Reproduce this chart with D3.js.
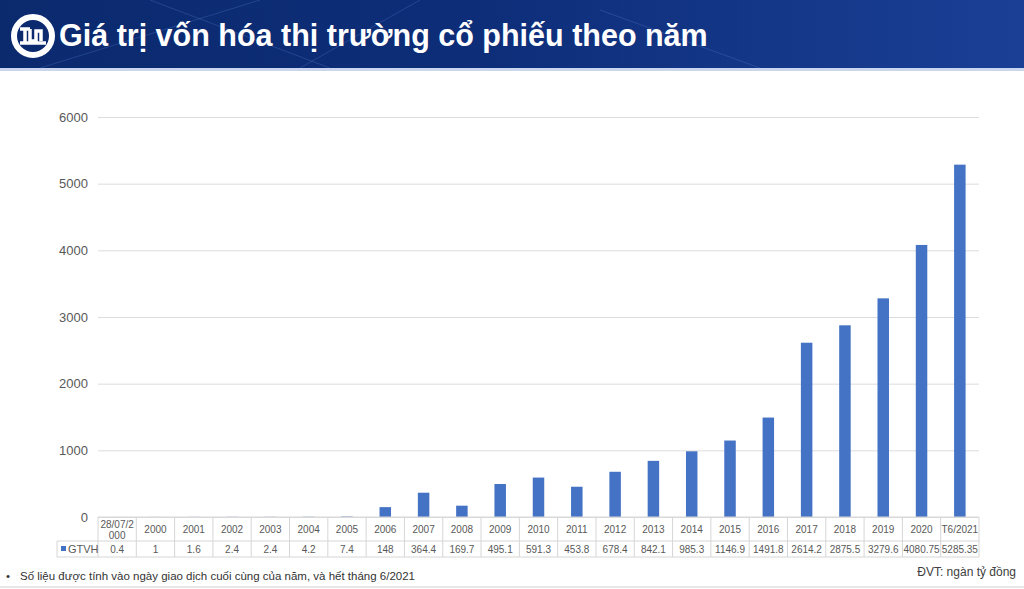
<!DOCTYPE html>
<html>
<head>
<meta charset="utf-8">
<script src="https://cdn.jsdelivr.net/npm/d3@7"></script>
<style>
  body { margin: 0; background: #fff; }
  svg { display: block; font-family: "Liberation Sans", Arial, sans-serif; }
</style>
</head>
<body>
<svg id="chart"></svg>
<script>
const width = 1024;
const height = 589;

// Data
const categories = ["28/07/2000", "2000", "2001", "2002", "2003", "2004", "2005", "2006", "2007", "2008", "2009",
  "2010", "2011", "2012", "2013", "2014", "2015", "2016", "2017", "2018", "2019", "2020", "T6/2021"];
const values = [0.4, 1, 1.6, 2.4, 2.4, 4.2, 7.4, 148, 364.4, 169.7, 495.1,
  591.3, 453.8, 678.4, 842.1, 985.3, 1146.9, 1491.8, 2614.2, 2875.5, 3279.6, 4080.75, 5285.35];
const valueLabels = ["0.4", "1", "1.6", "2.4", "2.4", "4.2", "7.4", "148", "364.4", "169.7", "495.1",
  "591.3", "453.8", "678.4", "842.1", "985.3", "1146.9", "1491.8", "2614.2", "2875.5", "3279.6", "4080.75", "5285.35"];
const yTicks = [0, 1000, 2000, 3000, 4000, 5000, 6000];
const seriesName = "GTVH";

const svg = d3.select("#chart")
  .attr("width", width)
  .attr("height", height);

// Header band
const defs = svg.append("defs");
const grad = defs.append("linearGradient").attr("id", "hdr").attr("x1", 0).attr("x2", 1).attr("y1", 0).attr("y2", 0);
grad.append("stop").attr("offset", "0%").attr("stop-color", "#0b2a6e");
grad.append("stop").attr("offset", "45%").attr("stop-color", "#0d2d78");
grad.append("stop").attr("offset", "100%").attr("stop-color", "#1a3f95");

svg.append("rect").attr("width", width).attr("height", 68).attr("fill", "url(#hdr)");
svg.append("rect").attr("y", 68).attr("width", width).attr("height", 3).attr("fill", "#c9d6ee");

// faint network lines in header
const netLines = [[40, 68, 260, 0], [300, 68, 420, 0], [600, 10, 760, 68], [150, 0, 330, 68]];
svg.append("g").selectAll("line").data(netLines).join("line")
  .attr("x1", d => d[0]).attr("y1", d => d[1]).attr("x2", d => d[2]).attr("y2", d => d[3])
  .attr("stroke", "#4f74c4").attr("stroke-opacity", 0.35).attr("stroke-width", 1);

// logo
const logo = svg.append("g").attr("transform", "translate(33,36)");
logo.append("circle").attr("r", 19).attr("fill", "none").attr("stroke", "#fff").attr("stroke-width", 6);
logo.append("path")
  .attr("d", "M-13,-7 H-3 M-8,-7 V7 M-3,-7 V5 H3 V-5 H8 V5 M-13,7 H13")
  .attr("fill", "none").attr("stroke", "#fff").attr("stroke-width", 3.5);

svg.append("text")
  .attr("x", 59).attr("y", 46)
  .attr("fill", "#fff")
  .attr("font-size", 30.5)
  .attr("font-weight", "bold")
  .text("Giá trị vốn hóa thị trường cổ phiếu theo năm");

// Chart area (absolute coordinates)
const plotLeft = 98;
const plotRight = 979;
const plotTop = 117;
const plotBottom = 517;

const xScale = d3.scaleBand()
  .domain(categories)
  .range([plotLeft, plotRight])
  .paddingInner(0.7)
  .paddingOuter(0.35);

const xCell = d3.scaleBand()
  .domain(categories)
  .range([plotLeft, plotRight]);

const yScale = d3.scaleLinear()
  .domain([0, 6000])
  .range([plotBottom, plotTop]);

// Gridlines via axis (labels drawn separately)
const yAxisG = svg.append("g")
  .attr("transform", `translate(${plotLeft},0)`)
  .call(d3.axisLeft(yScale).tickValues(yTicks).tickSize(-(plotRight - plotLeft)).tickFormat(""));
yAxisG.select(".domain").remove();
yAxisG.selectAll(".tick line").attr("stroke", "#dcdcdc");

// Y tick labels
svg.selectAll(".ylabel")
  .data(yTicks)
  .join("text")
  .attr("class", "ylabel")
  .attr("x", plotLeft - 10)
  .attr("y", d => yScale(d) + 4.5)
  .attr("text-anchor", "end")
  .attr("fill", "#595959")
  .attr("font-size", 13)
  .text(d => d3.format("d")(d));

// Bars
svg.selectAll(".bar")
  .data(values)
  .join("rect")
  .attr("class", "bar")
  .attr("x", (d, i) => xScale(categories[i]))
  .attr("y", d => yScale(d))
  .attr("width", xScale.bandwidth())
  .attr("height", d => plotBottom - yScale(d))
  .attr("fill", "#4472c4");

// Data table
const row1 = plotBottom + 24;
const row2 = row1 + 16;
const border = "#d6d6d6";
const legendLeft = 57;
const tableFont = 10;

const hLines = [[plotLeft, plotBottom], [legendLeft, row1], [legendLeft, row2]];
svg.selectAll(".hline")
  .data(hLines)
  .join("line")
  .attr("class", "hline")
  .attr("x1", d => d[0]).attr("x2", plotRight)
  .attr("y1", d => d[1]).attr("y2", d => d[1])
  .attr("stroke", border);
svg.append("line").attr("x1", legendLeft).attr("x2", legendLeft).attr("y1", row1).attr("y2", row2).attr("stroke", border);

const edges = categories.map(d => xCell(d)).concat([plotRight]);
svg.selectAll(".vline")
  .data(edges)
  .join("line")
  .attr("class", "vline")
  .attr("x1", d => d).attr("x2", d => d)
  .attr("y1", plotBottom).attr("y2", row2)
  .attr("stroke", border);

// category labels (first one wraps in two lines)
const catLines = [];
categories.forEach(d => {
  const cx = xCell(d) + xCell.bandwidth() / 2;
  if (d === "28/07/2000") {
    catLines.push({ t: "28/07/2", cx, y: plotBottom + 10.5 });
    catLines.push({ t: "000", cx, y: plotBottom + 21.5 });
  } else {
    catLines.push({ t: d, cx, y: plotBottom + 16 });
  }
});
svg.selectAll(".cat")
  .data(catLines)
  .join("text")
  .attr("class", "cat")
  .attr("x", d => d.cx)
  .attr("y", d => d.y)
  .attr("text-anchor", "middle")
  .attr("fill", "#595959")
  .attr("font-size", tableFont)
  .text(d => d.t);

// value labels
svg.selectAll(".val")
  .data(valueLabels)
  .join("text")
  .attr("class", "val")
  .attr("x", (d, i) => xCell(categories[i]) + xCell.bandwidth() / 2)
  .attr("y", row1 + 12)
  .attr("text-anchor", "middle")
  .attr("fill", "#595959")
  .attr("font-size", tableFont)
  .text(d => d);

// legend cell
svg.append("rect")
  .attr("x", legendLeft + 4).attr("y", row1 + 5)
  .attr("width", 5).attr("height", 5)
  .attr("fill", "#4472c4");
svg.append("text")
  .attr("x", legendLeft + 11).attr("y", row1 + 12)
  .attr("fill", "#595959")
  .attr("font-size", 11)
  .text(seriesName);

// Footer
svg.append("text")
  .attr("x", 6).attr("y", 580)
  .attr("fill", "#333")
  .attr("font-size", 11.5)
  .text("•");
svg.append("text")
  .attr("x", 20).attr("y", 580)
  .attr("fill", "#333")
  .attr("font-size", 11.5)
  .text("Số liệu được tính vào ngày giao dịch cuối cùng của năm, và hết tháng 6/2021");
svg.append("text")
  .attr("x", 1016).attr("y", 576)
  .attr("fill", "#404040")
  .attr("font-size", 12)
  .attr("text-anchor", "end")
  .text("ĐVT: ngàn tỷ đồng");
svg.append("line")
  .attr("x1", 0).attr("x2", width).attr("y1", 587).attr("y2", 587)
  .attr("stroke", "#d0d0d0");
</script>
</body>
</html>
